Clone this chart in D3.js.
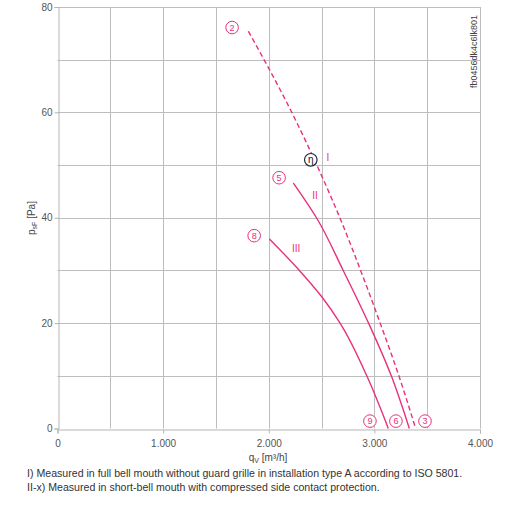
<!DOCTYPE html>
<html>
<head>
<meta charset="utf-8">
<script src="https://cdn.jsdelivr.net/npm/d3@7"></script>
<style>
  body { margin: 0; background: #fff; }
  svg { display: block; font-family: "Liberation Sans", Arial, sans-serif; }
</style>
</head>
<body>
<div id="chart"></div>
<script>
const svgWidth = 520;
const svgHeight = 518;
const pink = "#e8317c";

// values: flow qV [m³/h] and pressure psF [Pa]
const curveI_q = [1807, 2218, 2455, 2673, 2870, 3055, 3232, 3391];
const curveI_p = [75.4, 60, 50, 40, 30, 20, 10, 0];
const curveII_q = [2233, 2452, 2705, 2945, 3160, 3331];
const curveII_p = [46.6, 40, 30, 20, 10, 0];
const curveIII_q = [2006, 2290, 2502, 2675, 2928, 3132];
const curveIII_p = [36, 30, 25, 20, 10, 0];

const xTicks = [0, 1000, 2000, 3000, 4000];
const xTickLabels = ["0", "1.000", "2.000", "3.000", "4.000"];
const yTicks = [0, 20, 40, 60, 80];
const xGrid = [500, 1000, 1500, 2000, 2500, 3000, 3500, 4000];
const yGrid = [10, 20, 30, 40, 50, 60, 70, 80];

// operating point markers
const markerNames = ["2", "5", "8", "9", "6", "3"];
const markerQ = [1653, 2098, 1862, 2958, 3204, 3479];
const markerP = [76.1, 47.6, 36.6, 1.4, 1.4, 1.4];
const curveNames = ["I", "II", "III"];
const curveNameQ = [2561, 2438, 2259];
const curveNameP = [51.6, 44.4, 34.2];
const etaPoint = [2398, 51];

const notes = [
  "I) Measured in full bell mouth without guard grille in installation type A according to ISO 5801.",
  "II-x) Measured in short-bell mouth with compressed side contact protection."
];

const svg = d3.select("#chart").append("svg")
  .attr("width", svgWidth)
  .attr("height", svgHeight);

const x = d3.scaleLinear().domain([0, 4000]).range([57.5, 480]);
const y = d3.scaleLinear().domain([0, 80]).range([428.5, 7]);

// grid
const grid = svg.append("g").attr("stroke", "#bdbdbd").attr("stroke-width", 1);
grid.selectAll("line.v").data(xGrid).join("line")
  .attr("x1", d => Math.round(x(d)) + 0.5).attr("x2", d => Math.round(x(d)) + 0.5)
  .attr("y1", y(80)).attr("y2", y(0));
grid.selectAll("line.h").data(yGrid).join("line")
  .attr("x1", x(0)).attr("x2", x(4000))
  .attr("y1", d => Math.round(y(d)) + 0.5).attr("y2", d => Math.round(y(d)) + 0.5);

// axes
const xAxis = d3.axisBottom(x).tickValues(xTicks).tickSize(4).tickPadding(6)
  .tickFormat((d, i) => xTickLabels[i]);
const yAxis = d3.axisLeft(y).tickValues(yTicks).tickSize(4).tickPadding(2);

const gx = svg.append("g").attr("transform", `translate(0,${Math.round(y(0)) + 0.5})`).call(xAxis);
const gy = svg.append("g").attr("transform", `translate(${Math.round(x(0)) + 0.5},0)`).call(yAxis);
[gx, gy].forEach(g => {
  g.select(".domain").attr("stroke", "#b5b5b5");
  g.selectAll(".tick line").attr("stroke", "#b5b5b5");
  g.selectAll(".tick text").attr("fill", "#555").attr("font-size", 10)
    .attr("font-family", "Liberation Sans, Arial, sans-serif");
});

// axis titles
const xt = svg.append("text").attr("x", 268).attr("y", 461).attr("text-anchor", "middle")
  .attr("font-size", 10).attr("fill", "#444");
xt.append("tspan").text("q");
xt.append("tspan").attr("font-size", 7).attr("dy", 2).text("V");
xt.append("tspan").attr("dy", -2).text(" [m³/h]");

const yt = svg.append("text").attr("transform", "translate(35,218) rotate(-90)")
  .attr("text-anchor", "middle").attr("font-size", 10).attr("fill", "#444");
yt.append("tspan").text("p");
yt.append("tspan").attr("font-size", 7).attr("dy", 2).text("sF");
yt.append("tspan").attr("dy", -2).text(" [Pa]");

// drawing id
svg.append("text").attr("transform", "translate(477,88) rotate(-90)")
  .attr("font-size", 9).attr("fill", "#444").text("fb0456dk4c6lk801");

// curves (x as a function of y, points run top to bottom)
const curves = [
  { pts: d3.zip(curveI_q, curveI_p), dash: "5,3" },
  { pts: d3.zip(curveII_q, curveII_p), dash: null },
  { pts: d3.zip(curveIII_q, curveIII_p), dash: null }
];
const line = d3.line().x(p => x(p[0])).y(p => y(p[1])).curve(d3.curveMonotoneY);
svg.append("g").selectAll("path").data(curves).join("path")
  .attr("d", d => line(d.pts))
  .attr("fill", "none")
  .attr("stroke", pink)
  .attr("stroke-width", 1.4)
  .attr("stroke-dasharray", d => d.dash);

// curve names
svg.append("g").selectAll("text").data(curveNames).join("text")
  .attr("x", (d, i) => x(curveNameQ[i])).attr("y", (d, i) => y(curveNameP[i]) + 4)
  .attr("text-anchor", "middle").attr("font-size", 10).attr("fill", pink)
  .text(d => d);

// circled markers
const mk = svg.append("g").selectAll("g").data(markerNames).join("g")
  .attr("transform", (d, i) => `translate(${x(markerQ[i])},${y(markerP[i])})`);
mk.append("circle").attr("r", 6.3).attr("fill", "#fff").attr("stroke", pink).attr("stroke-width", 1);
mk.append("text").attr("y", 3.3).attr("text-anchor", "middle").attr("font-size", 9)
  .attr("fill", pink).text(d => d);

// efficiency point
const eta = svg.append("g").attr("transform", `translate(${x(etaPoint[0])},${y(etaPoint[1])})`);
eta.append("circle").attr("r", 6.3).attr("fill", "#fff").attr("stroke", "#1a2a3a").attr("stroke-width", 1.2);
eta.append("text").attr("y", 3.5).attr("text-anchor", "middle").attr("font-size", 10)
  .attr("fill", "#111").text("η");

// footnotes
svg.append("g").selectAll("text").data(notes).join("text")
  .attr("x", 27).attr("y", (d, i) => 477 + i * 13.5)
  .attr("font-size", 10.6).attr("fill", "#333").text(d => d);
</script>
</body>
</html>
